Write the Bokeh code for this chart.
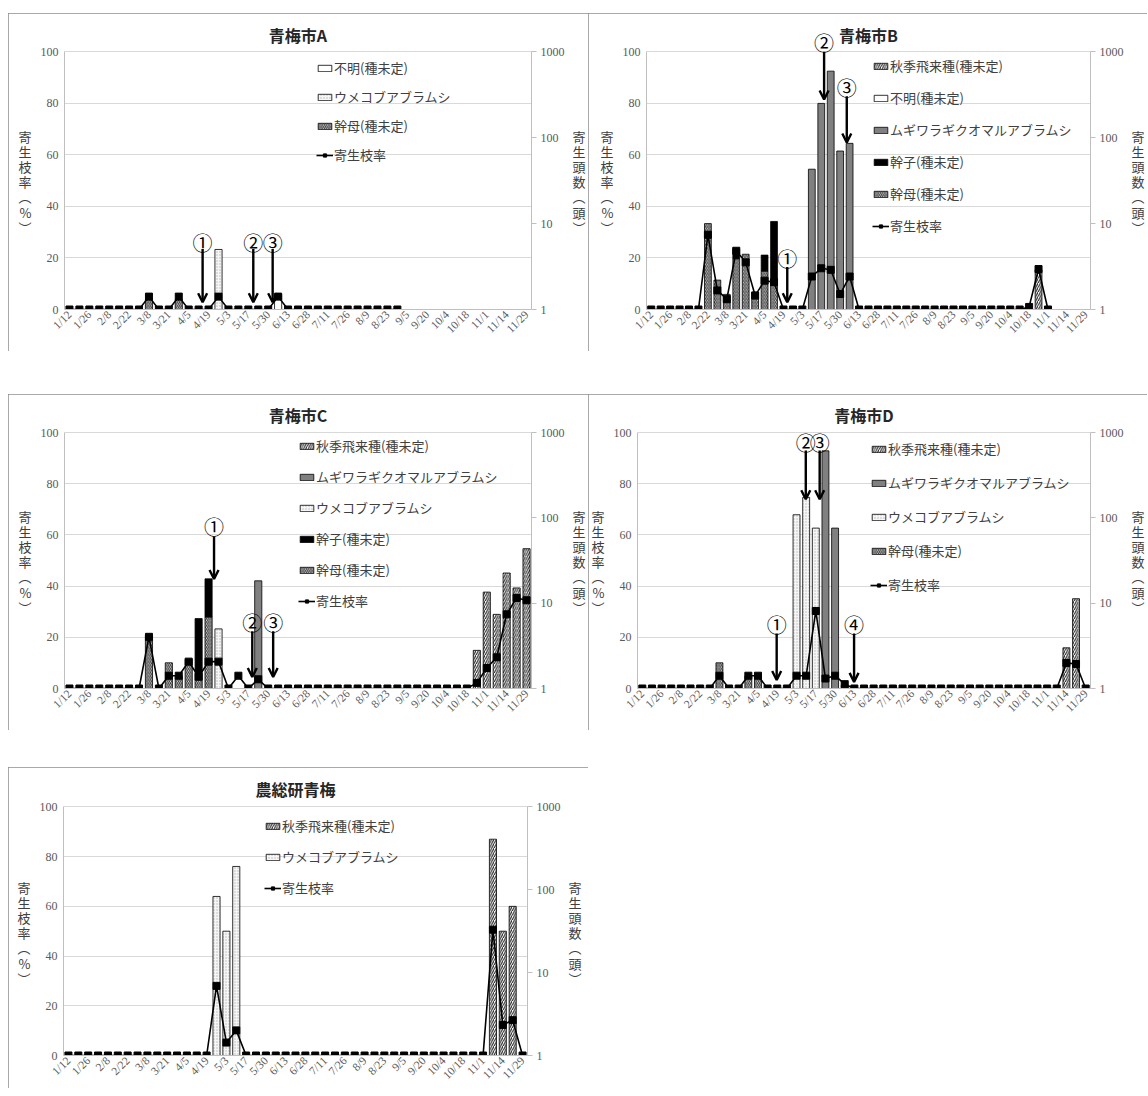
import math
import numpy as np
from bokeh.plotting import figure
from bokeh.models import (Range1d, LogScale, LinearAxis, LogAxis, FixedTicker, Legend,
                          LegendItem, Arrow, OpenHead, Label, Spacer)
from bokeh.layouts import column, row
from bokeh.embed import file_html
from bokeh.resources import INLINE

nan = float("nan")

# ---------------- data ----------------
tick_dates = ["1/12", "1/26", "2/8", "2/22", "3/8", "3/21", "4/5", "4/19", "5/3", "5/17",
              "5/30", "6/13", "6/28", "7/11", "7/26", "8/9", "8/23", "9/5", "9/20", "10/4",
              "10/18", "11/1", "11/14", "11/29"]

S_SHUKI = "秋季飛来種(種未定)"
S_FUMEI = "不明(種未定)"
S_MUGI = "ムギワラギクオマルアブラムシ"
S_UME = "ウメコブアブラムシ"
S_KANSHI = "幹子(種未定)"
S_KANBO = "幹母(種未定)"
S_RATE = "寄生枝率"

# 寄生頭数 (counts, right log axis) per survey date (47 dates)
A_kanbo = [0, 0, 0, 0, 0, 0, 0, 0, 1.3, 0,
           0, 1.3, 0, 0, 0, 0, 0, 0, 0, 0,
           0, 0, 0, 0, 0, 0, 0, 0, 0, 0,
           0, 0, 0, 0, 0, 0, 0, 0, 0, 0,
           0, 0, 0, 0, 0, 0, 0]
A_umekobu = [0, 0, 0, 0, 0, 0, 0, 0, 0, 0,
             0, 0, 0, 0, 0, 5.0, 0, 0, 0, 0,
             0, 0, 0, 0, 0, 0, 0, 0, 0, 0,
             0, 0, 0, 0, 0, 0, 0, 0, 0, 0,
             0, 0, 0, 0, 0, 0, 0]
A_fumei = [0, 0, 0, 0, 0, 0, 0, 0, 0, 0,
           0, 0, 0, 0, 0, 0, 0, 0, 0, 0,
           0, 1.5, 0, 0, 0, 0, 0, 0, 0, 0,
           0, 0, 0, 0, 0, 0, 0, 0, 0, 0,
           0, 0, 0, 0, 0, 0, 0]
A_rate = [0, 0, 0, 0, 0, 0, 0, 0, 5, 0,
          0, 5, 0, 0, 0, 5, 0, 0, 0, 0,
          0, 5, 0, 0, 0, 0, 0, 0, 0, 0,
          0, 0, 0, 0, nan, nan, nan, nan, nan, nan,
          nan, nan, nan, nan, nan, nan, nan]

B_kanbo = [0, 0, 0, 0, 0, 0, 10, 2.2, 1.5, 3.9,
           4.4, 1.6, 2.8, 2.0, 0, 0, 0, 0, 0, 0,
           0, 0, 0, 0, 0, 0, 0, 0, 0, 0,
           0, 0, 0, 0, 0, 0, 0, 0, 0, 0,
           0, 0, 0, 0, 0, 0, 0]
B_kanshi = [0, 0, 0, 0, 0, 0, 0, 0, 0, 1.2,
            0, 0, 1.5, 8.6, 0, 0, 0, 0, 0, 0,
            0, 0, 0, 0, 0, 0, 0, 0, 0, 0,
            0, 0, 0, 0, 0, 0, 0, 0, 0, 0,
            0, 0, 0, 0, 0, 0, 0]
B_mugi = [0, 0, 0, 0, 0, 0, 0, 0, 0, 0,
          0, 0, 0, 0, 0, 0, 0, 43, 251, 596,
          70, 86, 0, 0, 0, 0, 0, 0, 0, 0,
          0, 0, 0, 0, 0, 0, 0, 0, 0, 0,
          0, 0, 0, 0, 0, 0, 0]
B_fumei = [0, 0, 0, 0, 0, 0, 0, 0, 0, 0,
           0, 0, 0, 0, 0, 0, 0, 0, 0, 0,
           0, 0, 0, 0, 0, 0, 0, 0, 0, 0,
           0, 0, 0, 0, 0, 0, 0, 0, 0, 0,
           0, 0, 0, 0, 0, 0, 0]
B_shuki = [0, 0, 0, 0, 0, 0, 0, 0, 0, 0,
           0, 0, 0, 0, 0, 0, 0, 0, 0, 0,
           0, 0, 0, 0, 0, 0, 0, 0, 0, 0,
           0, 0, 0, 0, 0, 0, 0, 0, 0, 0,
           0, 2.9, 0, 0, 0, 0, 0]
B_rate = [0, 0, 0, 0, 0, 0, 29, 7.4, 4, 22.8,
          18.3, 5.4, 11.2, 10.6, 0, 0, 0, 12.8, 16, 15.4,
          6, 12.8, 0, 0, 0, 0, 0, 0, 0, 0,
          0, 0, 0, 0, 0, 0, 0, 0, 0, 0,
          1, 15.7, 0, nan, nan, nan, nan]

C_kanbo = [0, 0, 0, 0, 0, 0, 0, 0, 4.2, 0,
           2.0, 1.4, 2.2, 1.3, 6.9, 0, 0, 0, 0, 0,
           0, 0, 0, 0, 0, 0, 0, 0, 0, 0,
           0, 0, 0, 0, 0, 0, 0, 0, 0, 0,
           0, 0, 0, 0, 0, 0, 0]
C_kanshi = [0, 0, 0, 0, 0, 0, 0, 0, 0, 0,
            0, 0, 0, 5.3, 12.4, 0, 0, 0, 0, 0,
            0, 0, 0, 0, 0, 0, 0, 0, 0, 0,
            0, 0, 0, 0, 0, 0, 0, 0, 0, 0,
            0, 0, 0, 0, 0, 0, 0]
C_umekobu = [0, 0, 0, 0, 0, 0, 0, 0, 0, 0,
             0, 0, 0, 0, 0, 5.0, 0, 0, 0, 0,
             0, 0, 0, 0, 0, 0, 0, 0, 0, 0,
             0, 0, 0, 0, 0, 0, 0, 0, 0, 0,
             0, 0, 0, 0, 0, 0, 0]
C_mugi = [0, 0, 0, 0, 0, 0, 0, 0, 0, 0,
          0, 0, 0, 0, 0, 0, 0, 0, 0, 18.3,
          0, 0, 0, 0, 0, 0, 0, 0, 0, 0,
          0, 0, 0, 0, 0, 0, 0, 0, 0, 0,
          0, 0, 0, 0, 0, 0, 0]
C_shuki = [0, 0, 0, 0, 0, 0, 0, 0, 0, 0,
           0, 0, 0, 0, 0, 0, 0, 0, 0, 0,
           0, 0, 0, 0, 0, 0, 0, 0, 0, 0,
           0, 0, 0, 0, 0, 0, 0, 0, 0, 0,
           0, 2.8, 13.5, 7.4, 22.6, 15.1, 43.6]
C_rate = [0, 0, 0, 0, 0, 0, 0, 0, 20.2, 0,
          5, 5, 10.5, 4.6, 10.5, 10.5, 0, 5, 0, 3.6,
          0, 0, 0, 0, 0, 0, 0, 0, 0, 0,
          0, 0, 0, 0, 0, 0, 0, 0, 0, 0,
          0, 2.2, 8, 12.2, 29, 35.4, 34.5]

D_kanbo = [0, 0, 0, 0, 0, 0, 0, 0, 2.0, 0,
           0, 1.4, 1.4, 0, 0, 0, 0, 0, 0, 0,
           0, 0, 0, 0, 0, 0, 0, 0, 0, 0,
           0, 0, 0, 0, 0, 0, 0, 0, 0, 0,
           0, 0, 0, 0, 0, 0, 0]
D_umekobu = [0, 0, 0, 0, 0, 0, 0, 0, 0, 0,
             0, 0, 0, 0, 0, 0, 109, 174, 76, 0,
             0, 1.1, 0, 0, 0, 0, 0, 0, 0, 0,
             0, 0, 0, 0, 0, 0, 0, 0, 0, 0,
             0, 0, 0, 0, 0, 0, 0]
D_mugi = [0, 0, 0, 0, 0, 0, 0, 0, 0, 0,
          0, 0, 0, 0, 0, 0, 0, 0, 0, 612,
          76, 0, 0, 0, 0, 0, 0, 0, 0, 0,
          0, 0, 0, 0, 0, 0, 0, 0, 0, 0,
          0, 0, 0, 0, 0, 0, 0]
D_shuki = [0, 0, 0, 0, 0, 0, 0, 0, 0, 0,
           0, 0, 0, 0, 0, 0, 0, 0, 0, 0,
           0, 0, 0, 0, 0, 0, 0, 0, 0, 0,
           0, 0, 0, 0, 0, 0, 0, 0, 0, 0,
           0, 0, 0, 0, 3.0, 11.3, 0]
D_rate = [0, 0, 0, 0, 0, 0, 0, 0, 5, 0,
          0, 5, 5, 0, 0, 0, 5, 5, 30.3, 3.9,
          5, 1.7, 0, 0, 0, 0, 0, 0, 0, 0,
          0, 0, 0, 0, 0, 0, 0, 0, 0, 0,
          0, 0, 0, 0, 10, 9.6, 0]

E_umekobu = [0, 0, 0, 0, 0, 0, 0, 0, 0, 0,
             0, 0, 0, 0, 0, 83, 31.6, 191, 0, 0,
             0, 0, 0, 0, 0, 0, 0, 0, 0, 0,
             0, 0, 0, 0, 0, 0, 0, 0, 0, 0,
             0, 0, 0, 0, 0, 0, 0]
E_shuki = [0, 0, 0, 0, 0, 0, 0, 0, 0, 0,
           0, 0, 0, 0, 0, 0, 0, 0, 0, 0,
           0, 0, 0, 0, 0, 0, 0, 0, 0, 0,
           0, 0, 0, 0, 0, 0, 0, 0, 0, 0,
           0, 0, 0, 407, 31.6, 63, 0]
E_rate = [0, 0, 0, 0, 0, 0, 0, 0, 0, 0,
          0, 0, 0, 0, 0, 28, 5.2, 10.1, 0, 0,
          0, 0, 0, 0, 0, 0, 0, 0, 0, 0,
          0, 0, 0, 0, 0, 0, 0, 0, 0, 0,
          0, 0, 0, 50.6, 12.3, 14.2, 0]

# arrows: (label, x index, y tail %, y tip %, y label %)
A_arrows = [("①", 13.4, 23.5, 2.8, 26.0), ("②", 18.5, 23.5, 2.8, 26.0), ("③", 20.45, 23.5, 2.8, 26.0)]
B_arrows = [("①", 14.4, 16.5, 2.8, 19.8), ("②", 18.3, 100, 81.5, 103.5), ("③", 20.7, 82.8, 64.8, 86.3)]
C_arrows = [("①", 14.55, 59.4, 42.8, 63.2), ("②", 18.4, 22.4, 4.5, 25.8), ("③", 20.5, 22.4, 4.5, 25.8)]
D_arrows = [("①", 13.94, 21.5, 3.3, 25.2), ("②", 16.96, 93, 74, 96.3), ("③", 18.4, 93, 74, 96.3),
            ("④", 21.97, 21.5, 2.6, 25.2)]
E_arrows = []

# ---------------- styles ----------------
JP = "Noto Sans CJK JP"
SERIF = "Liberation Serif"
STYLES = {
    S_SHUKI: dict(fill_color="white", hatch_pattern="/", hatch_scale=4.5, hatch_weight=1.1, hatch_color="#222222"),
    S_FUMEI: dict(fill_color="white"),
    S_MUGI: dict(fill_color="#808080"),
    S_UME: dict(fill_color="#f6f6f6", hatch_pattern=".", hatch_scale=3, hatch_weight=1, hatch_color="#b5b5b5"),
    S_KANSHI: dict(fill_color="black"),
    S_KANBO: dict(fill_color="white", hatch_pattern="\\", hatch_scale=3.6, hatch_weight=1.1, hatch_color="#333333"),
}

HAS_ORI = "axis_label_orientation" in LinearAxis.properties()
YTOP = 111  # frame extends above the 100 % line to hold the title and labels above it


def vlabel(s):
    # stacked (upright) characters; two leading empty lines keep it centred on the 0-100 part
    return "\n\n" + "\n".join(s)


def style_axis(ax):
    ax.axis_line_color = "#bfbfbf"
    ax.major_label_text_font = SERIF
    ax.major_label_text_font_size = "12px"
    ax.major_label_text_color = "#595959"
    ax.major_tick_out = 0
    ax.major_tick_in = 0
    ax.minor_tick_out = 0
    ax.minor_tick_in = 0
    ax.axis_label_text_font = JP
    ax.axis_label_text_font_size = "13px"
    ax.axis_label_text_font_style = "normal"
    ax.axis_label_text_color = "#404040"


def make_panel(title, stack, legend_order, rate, arrows, w, h, bl, br, bt, bb,
               leg_x, leg_first, leg_pitch, title_off=17):
    p = figure(width=w, height=h, x_range=Range1d(-0.5, 46.5), y_range=Range1d(0, YTOP),
               output_backend="svg", toolbar_location=None, title=None,
               min_border_left=bl, min_border_right=br, min_border_top=bt, min_border_bottom=bb)
    p.extra_y_ranges = {"cnt": Range1d(1, 10 ** (3.0 * YTOP / 100.0))}
    p.extra_y_scales = {"cnt": LogScale()}
    p.outline_line_color = None
    p.background_fill_color = "white"
    p.border_fill_color = "white"
    p.styles = {"outline": "1px solid #8c8c8c", "outline-offset": "-1px"}

    frame100_h = (h - bt - bb) * 100.0 / YTOP
    p.add_layout(Label(x=23, y=100 + title_off * 100.0 / frame100_h, text=title, text_font=JP,
                       text_font_size="16px", text_font_style="bold", text_color="#262626",
                       text_align="center", text_baseline="middle"))

    # axes
    yt = FixedTicker(ticks=[0, 20, 40, 60, 80, 100])
    p.yaxis.ticker = yt
    p.ygrid.ticker = yt
    p.yaxis.bounds = (0, 100)
    p.ygrid.grid_line_color = "#d9d9d9"
    p.xgrid.visible = False
    style_axis(p.yaxis[0])
    style_axis(p.xaxis[0])
    p.yaxis.major_label_standoff = 6
    xticks = list(range(0, 47, 2))
    p.xaxis.ticker = FixedTicker(ticks=xticks)
    p.xaxis.major_label_overrides = {t: d for t, d in zip(xticks, tick_dates)}
    p.xaxis.major_label_orientation = math.pi / 4
    p.xaxis.major_label_text_font_size = "11.5px"
    p.xaxis.major_label_standoff = 3

    rax = LogAxis(y_range_name="cnt", ticker=FixedTicker(ticks=[1, 10, 100, 1000]),
                  major_label_overrides={1: "1", 10: "10", 100: "100", 1000: "1000"},
                  bounds=(1, 1000))
    style_axis(rax)
    rax.major_tick_out = 5
    rax.major_tick_line_color = "#bfbfbf"
    rax.major_label_standoff = 4
    p.add_layout(rax, "right")

    if HAS_ORI:
        p.yaxis.axis_label = vlabel("寄生枝率︵%︶")
        p.yaxis.axis_label_orientation = "horizontal"
        p.yaxis.axis_label_text_line_height = 0.8
        rax.axis_label = vlabel("寄生頭数︵頭︶")
        rax.axis_label_orientation = "horizontal"
        rax.axis_label_text_line_height = 0.8
    else:
        p.yaxis.axis_label = "寄生枝率(%)"
        rax.axis_label = "寄生頭数(頭)"
    p.yaxis.axis_label_standoff = 6
    rax.axis_label_standoff = 5

    xs = np.arange(47)
    cum = np.zeros(47)
    rends = {}
    for name, vals in stack:
        v = np.array(vals, dtype=float)
        bottom = cum.copy()
        cum = cum + v
        sel = v > 0
        if sel.any():
            r = p.vbar(x=xs[sel], top=cum[sel], bottom=np.maximum(bottom[sel], 1.0), width=0.72,
                       y_range_name="cnt", line_color="black", line_width=0.8, **STYLES[name])
        else:
            # series present in the legend but with no counts in this panel
            r = p.vbar(x=[nan], top=[nan], bottom=[nan], width=0.72,
                       y_range_name="cnt", line_color="black", line_width=0.8, **STYLES[name])
        rends[name] = r

    ln = p.line(xs, rate, line_color="black", line_width=1.6)
    mk = p.scatter(xs, rate, marker="square", size=7, fill_color="black", line_color="black")

    for lab, x, y0, y1, yl in arrows:
        p.add_layout(Arrow(end=OpenHead(size=9, line_width=2.4, line_color="black"),
                           x_start=x, y_start=y0, x_end=x, y_end=y1,
                           line_width=2.4, line_color="black"))
        p.add_layout(Label(x=x, y=yl, text=lab, text_font=JP, text_font_size="20px",
                           text_align="center", text_baseline="middle", text_color="black"))

    items = [LegendItem(label=n, renderers=[rends[n]]) for n in legend_order]
    items.append(LegendItem(label=S_RATE, renderers=[ln, mk]))
    n = len(items)
    item_h = 18
    height = (n - 1) * leg_pitch + item_h
    leg_y = frame100_h - (leg_first - item_h / 2) - height
    legend = Legend(items=items, location=(leg_x, int(round(leg_y))), orientation="vertical",
                    background_fill_alpha=0, border_line_color=None, padding=0, margin=0,
                    spacing=int(round(leg_pitch - item_h)), label_height=item_h, glyph_height=8,
                    glyph_width=17, label_standoff=1, label_text_font=JP,
                    label_text_font_size="13px", label_text_color="#404040")
    p.add_layout(legend)
    return p


pA = make_panel("青梅市A",
                [(S_KANBO, A_kanbo), (S_UME, A_umekobu), (S_FUMEI, A_fumei)],
                [S_FUMEI, S_UME, S_KANBO], A_rate, A_arrows,
                580, 338, 56, 56, 10, 42, 252, 20, 28, title_off=16.5)
pB = make_panel("青梅市B",
                [(S_KANBO, B_kanbo), (S_KANSHI, B_kanshi), (S_MUGI, B_mugi), (S_FUMEI, B_fumei),
                 (S_SHUKI, B_shuki)],
                [S_SHUKI, S_FUMEI, S_MUGI, S_KANSHI, S_KANBO], B_rate, B_arrows,
                559, 338, 58, 43, 10, 42, 226, 20.5, 30.8, title_off=16.5)
pC = make_panel("青梅市C",
                [(S_KANBO, C_kanbo), (S_KANSHI, C_kanshi), (S_UME, C_umekobu), (S_MUGI, C_mugi),
                 (S_SHUKI, C_shuki)],
                [S_SHUKI, S_MUGI, S_UME, S_KANSHI, S_KANBO], C_rate, C_arrows,
                580, 336, 56, 56, 10, 42, 234, 19.5, 29.9, title_off=17.5)
pD = make_panel("青梅市D",
                [(S_KANBO, D_kanbo), (S_UME, D_umekobu), (S_MUGI, D_mugi), (S_SHUKI, D_shuki)],
                [S_SHUKI, S_MUGI, S_UME, S_KANBO], D_rate, D_arrows,
                559, 336, 45, 45, 10, 42, 233, 22, 32.7, title_off=17.5)
pE = make_panel("農総研青梅",
                [(S_UME, E_umekobu), (S_SHUKI, E_shuki)],
                [S_SHUKI, S_UME], E_rate, E_arrows,
                580, 321, 55, 61, 12, 31, 201, 23, 30, title_off=17.5)

layout = column(Spacer(height=13),
                row(Spacer(width=8), pA, pB),
                Spacer(height=43),
                row(Spacer(width=8), pC, pD),
                Spacer(height=37),
                row(Spacer(width=8), pE))

open("out.html", "w").write(file_html(layout, INLINE))
